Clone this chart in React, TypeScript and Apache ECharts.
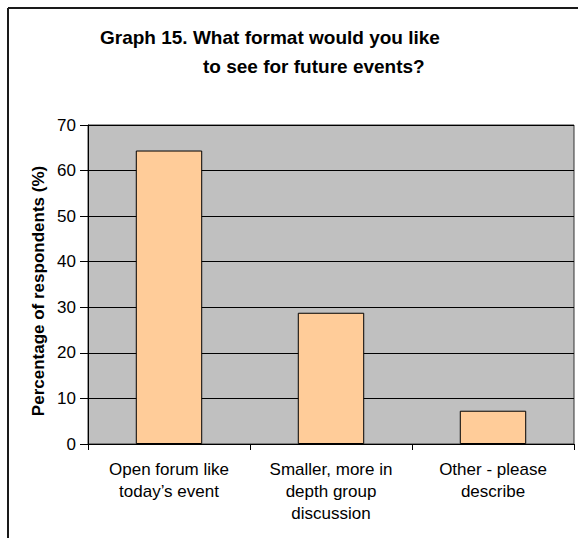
import React, { useEffect, useRef } from "react";
import * as echarts from "echarts";

const categories = [
  "Open forum like\ntoday\u2019s event",
  "Smaller, more in\ndepth group\ndiscussion",
  "Other - please\ndescribe",
];
const percentages = [64.4, 28.8, 7.3];
const yTicks = { min: 0, max: 70, interval: 10 };
const titleLine1 = "Graph 15. What format would you like";
const titleLine2 = "to see for future events?";
const yAxisTitle = "Percentage of respondents (%)";

const FONT = "'Liberation Sans', Arial, Helvetica, sans-serif";

export default function App() {
  const ref = useRef<HTMLDivElement>(null);
  useEffect(() => {
    if (!ref.current) return;
    const chart = echarts.init(ref.current, null, { renderer: "svg" });
    chart.setOption({
      animation: false,
      backgroundColor: "#ffffff",
      textStyle: { fontFamily: FONT, color: "#000" },
      grid: {
        left: 88,
        right: 4,
        top: 125,
        bottom: 94,
        show: true,
        backgroundColor: "#c0c0c0",
        borderColor: "#333",
        borderWidth: 1,
      },
      xAxis: {
        type: "category",
        data: categories,
        axisLine: { lineStyle: { color: "#000", width: 1 } },
        axisTick: { show: true, length: 6, lineStyle: { color: "#000" } },
        axisLabel: {
          color: "#000",
          fontSize: 17,
          fontFamily: FONT,
          lineHeight: 22,
          margin: 14,
          interval: 0,
        },
      },
      yAxis: {
        type: "value",
        min: yTicks.min,
        max: yTicks.max,
        interval: yTicks.interval,
        axisLine: { show: true, lineStyle: { color: "#000", width: 1 } },
        axisTick: { show: true, length: 8, lineStyle: { color: "#000" } },
        axisLabel: { color: "#000", fontSize: 17, fontFamily: FONT, margin: 12 },
        splitLine: { show: true, lineStyle: { color: "#000", width: 1 } },
      },
      series: [
        {
          type: "bar",
          data: percentages,
          barWidth: "41%",
          itemStyle: { color: "#ffcc99", borderColor: "#000", borderWidth: 1 },
        },
      ],
      graphic: [
        {
          type: "line",
          shape: { x1: 8, y1: 8, x2: 578, y2: 8 },
          style: { stroke: "#1a1a1a", lineWidth: 2 },
        },
        {
          type: "line",
          shape: { x1: 8, y1: 8, x2: 8, y2: 538 },
          style: { stroke: "#1a1a1a", lineWidth: 2 },
        },
        {
          type: "text",
          x: 100,
          y: 47,
          style: {
            text: titleLine1,
            font: `bold 19px ${FONT}`,
            fill: "#000",
            textAlign: "left",
            textVerticalAlign: "bottom",
          },
        },
        {
          type: "text",
          x: 203,
          y: 76,
          style: {
            text: titleLine2,
            font: `bold 19px ${FONT}`,
            fill: "#000",
            textAlign: "left",
            textVerticalAlign: "bottom",
          },
        },
        {
          type: "text",
          x: 38,
          y: 291,
          rotation: Math.PI / 2,
          style: {
            text: yAxisTitle,
            font: `bold 17px ${FONT}`,
            fill: "#000",
            textAlign: "center",
            textVerticalAlign: "middle",
          },
        },
      ],
    });
    return () => chart.dispose();
  }, []);
  return (
    <div
      ref={ref}
      style={{ position: "absolute", left: 0, top: 0, width: 578, height: 538 }}
    />
  );
}
